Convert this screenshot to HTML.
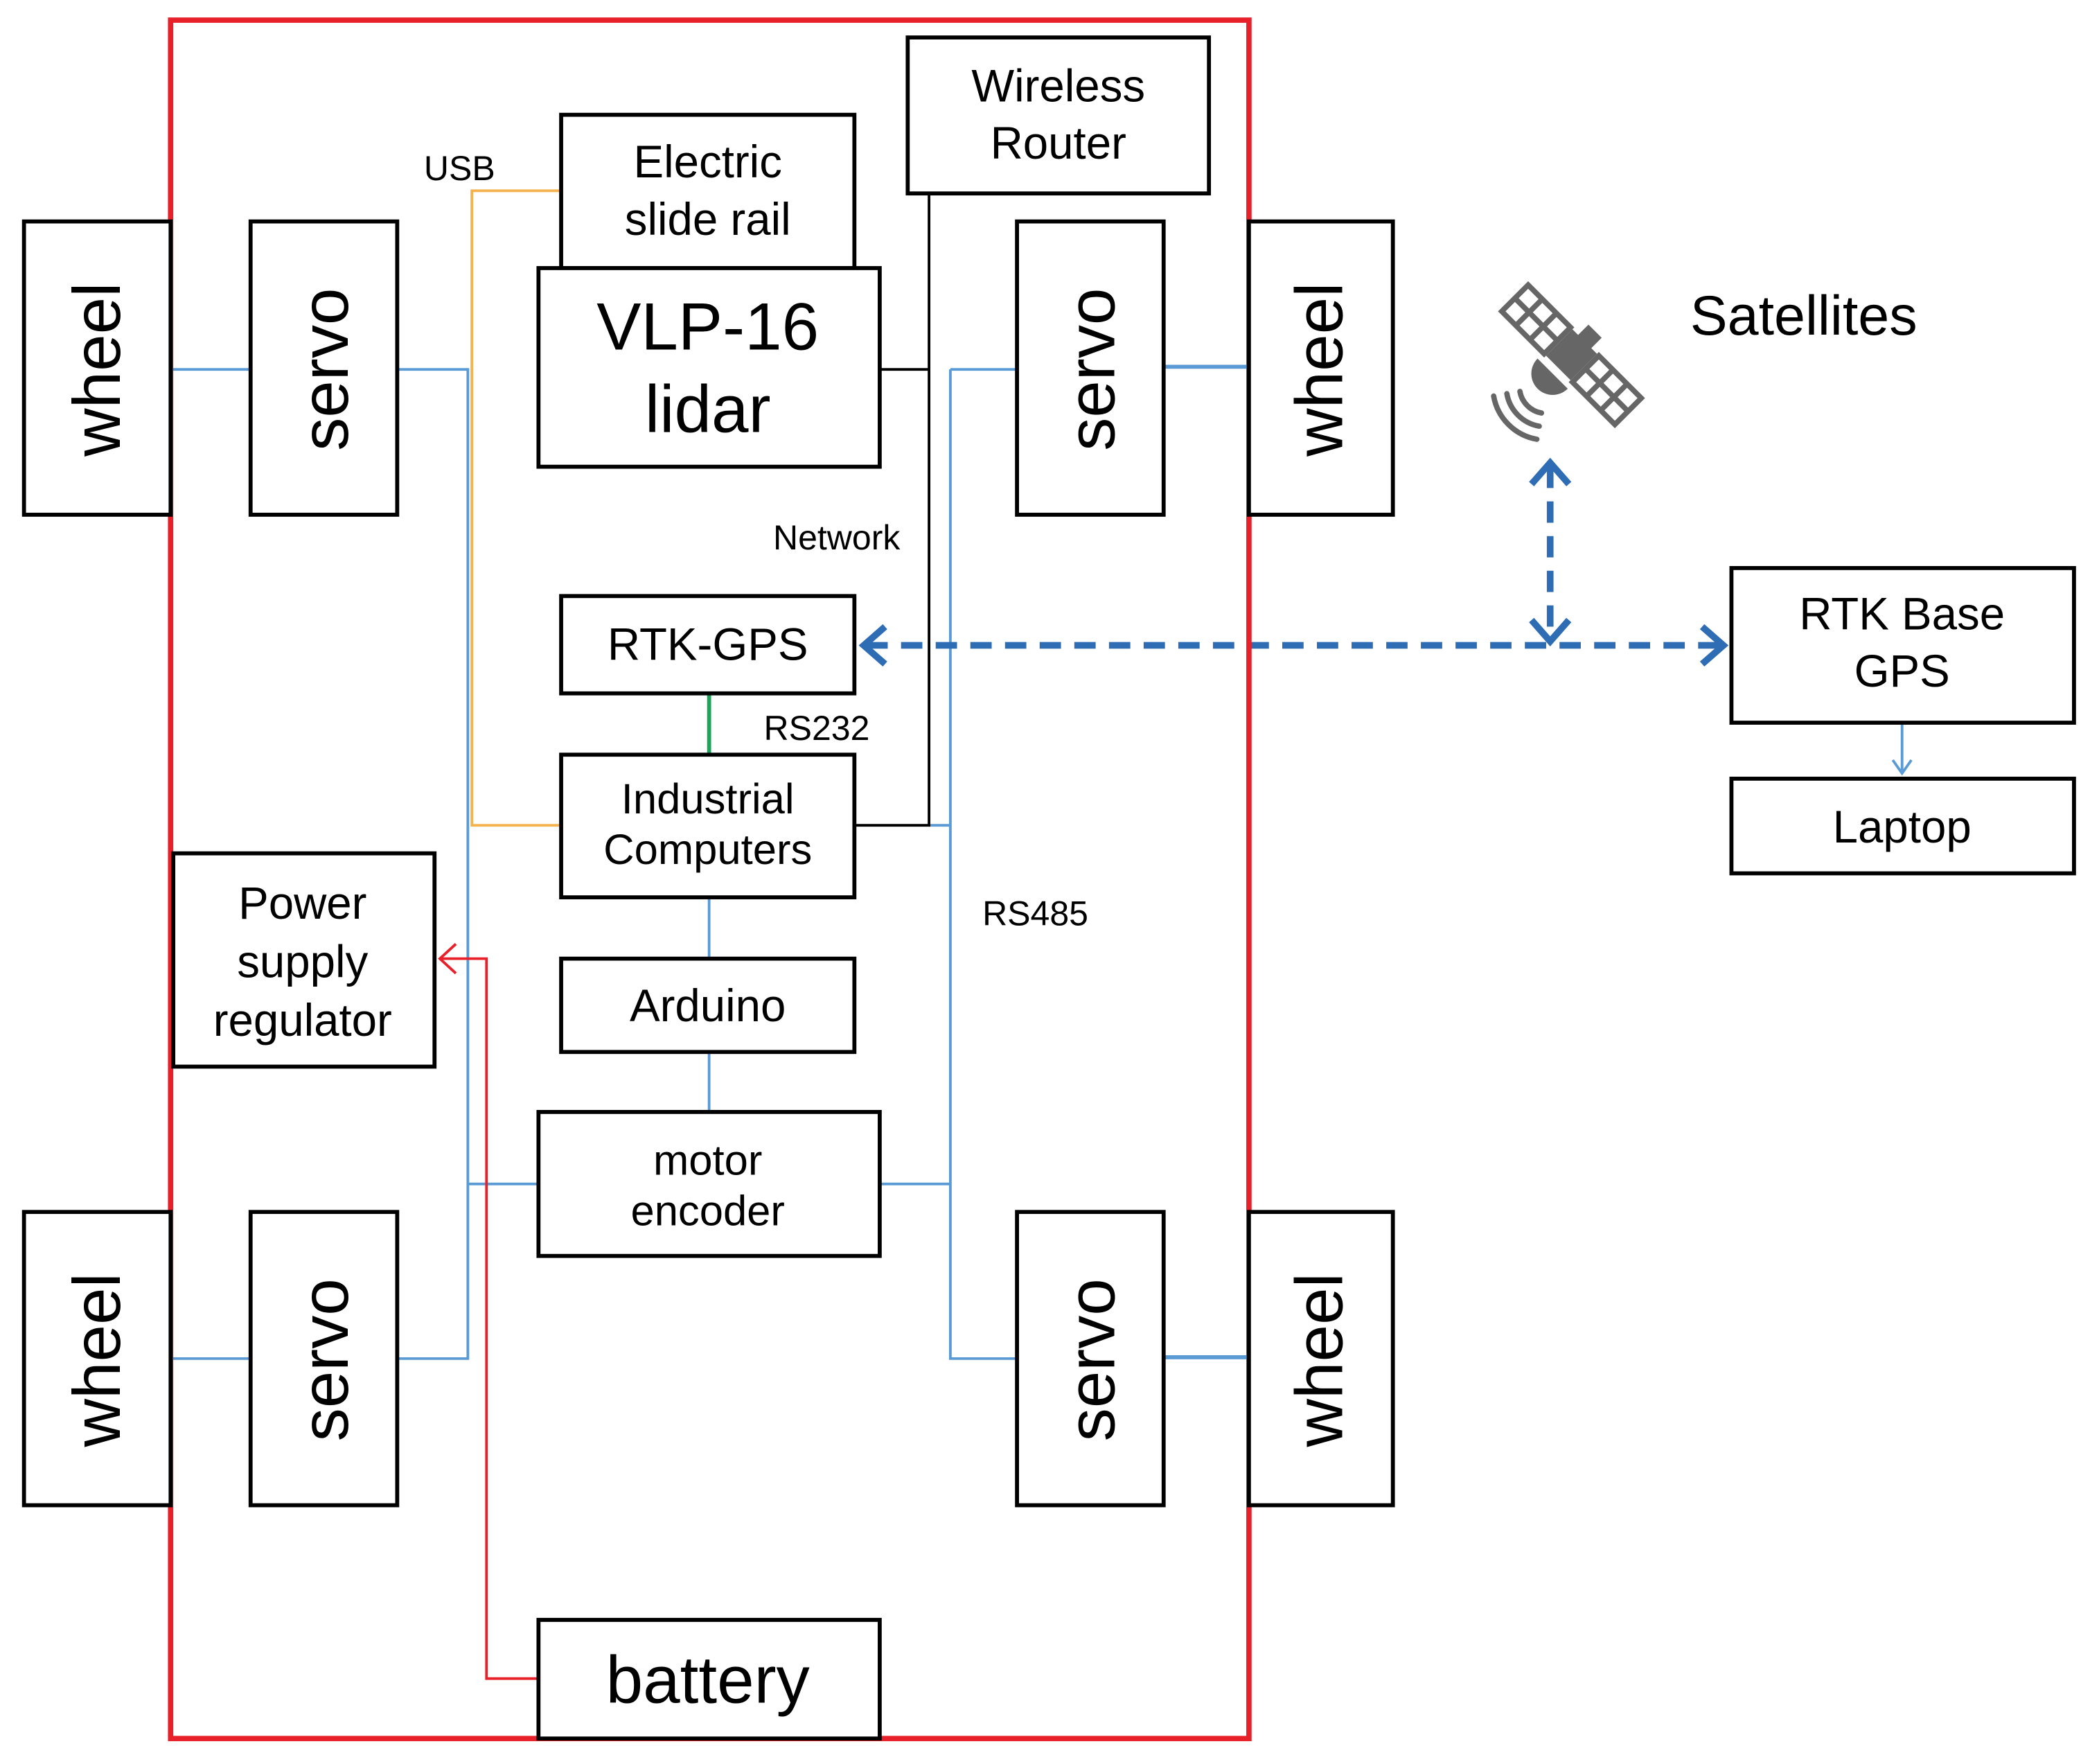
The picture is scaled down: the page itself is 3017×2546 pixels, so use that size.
<!DOCTYPE html>
<html><head><meta charset="utf-8"><style>html,body{margin:0;padding:0;background:#fff}svg{display:block}</style></head>
<body>
<svg width="3017" height="2546" viewBox="0 0 1568 1323" xmlns="http://www.w3.org/2000/svg" font-family="Liberation Sans, sans-serif">
<rect width="1568" height="1323" fill="#fff"/>
<!-- connectors -->
<g stroke="#5b9bd5" stroke-width="2" fill="none">
<path d="M128 277H188M128 1019H188M298 277H351V1019H298M351 888H404"/>
<path d="M697 619H713M713 277H763M713 277V1019H763M660 888H713"/>
<path d="M532 673V719M532 789V834"/>
<path d="M873 275H937M873 1018H937" stroke-width="3"/>
<path d="M1427 542V578M1420 570L1427 580L1434 570"/>
</g>
<path d="M641 619H697V145M660 277H697" stroke="#000" stroke-width="2" fill="none"/>
<path d="M421 143H354V619H421" stroke="#f5b350" stroke-width="2" fill="none"/>
<path d="M532 520V566" stroke="#1aa55a" stroke-width="3"/>
<path d="M404 1259H365V719H330M342 708L330 719L342 730" stroke="#e8202a" stroke-width="2" fill="none"/>
<g stroke="#2e6db4" stroke-width="5" fill="none" stroke-dasharray="16,10">
<path d="M650 484H1290"/><path d="M1163 350V478"/>
</g>
<g stroke="#2e6db4" stroke-width="5" fill="none">
<path d="M664 470L648 484L664 498"/><path d="M1277 470L1293 484L1277 498"/>
<path d="M1149 363L1163 347L1177 363"/><path d="M1149 465L1163 481L1177 465"/>
</g>
<!-- red frame -->
<rect x="128" y="15" width="809" height="1289" fill="none" stroke="#e8202a" stroke-width="4"/>
<!-- boxes -->
<g fill="#fff" stroke="#000" stroke-width="3">
<rect x="18" y="166" width="110" height="220"/><rect x="18" y="909" width="110" height="220"/>
<rect x="937" y="166" width="108" height="220"/><rect x="937" y="909" width="108" height="220"/>
<rect x="188" y="166" width="110" height="220"/><rect x="188" y="909" width="110" height="220"/>
<rect x="763" y="166" width="110" height="220"/><rect x="763" y="909" width="110" height="220"/>
<rect x="421" y="86" width="220" height="115"/>
<rect x="404" y="201" width="256" height="149"/>
<rect x="681" y="28" width="226" height="117"/>
<rect x="421" y="447" width="220" height="73"/>
<rect x="421" y="566" width="220" height="107"/>
<rect x="421" y="719" width="220" height="70"/>
<rect x="404" y="834" width="256" height="108"/>
<rect x="404" y="1215" width="256" height="89"/>
<rect x="130" y="640" width="196" height="160"/>
<rect x="1299" y="426" width="257" height="116"/>
<rect x="1299" y="584" width="257" height="71"/>
</g>
<g font-size="50" text-anchor="middle" fill="#000">
<text transform="translate(90,277) rotate(-90)">wheel</text>
<text transform="translate(90,1020) rotate(-90)">wheel</text>
<text transform="translate(1007,277) rotate(-90)">wheel</text>
<text transform="translate(1007,1020) rotate(-90)">wheel</text>
<text transform="translate(261,277) rotate(-90)">servo</text>
<text transform="translate(261,1020) rotate(-90)">servo</text>
<text transform="translate(836,277) rotate(-90)">servo</text>
<text transform="translate(836,1020) rotate(-90)">servo</text>
</g>
<g text-anchor="middle" fill="#000">
<text x="531" y="133" font-size="34">Electric</text><text x="531" y="176" font-size="34">slide rail</text>
<text x="531" y="262" font-size="50">VLP-16</text><text x="531" y="324" font-size="50">lidar</text>
<text x="794" y="76" font-size="34">Wireless</text><text x="794" y="119" font-size="34">Router</text>
<text x="531" y="495" font-size="34">RTK-GPS</text>
<text x="531" y="610" font-size="32">Industrial</text><text x="531" y="648" font-size="32">Computers</text>
<text x="531" y="766" font-size="34">Arduino</text>
<text x="531" y="881" font-size="32">motor</text><text x="531" y="919" font-size="32">encoder</text>
<text x="531" y="1277" font-size="50">battery</text>
<text x="227" y="689" font-size="34">Power</text><text x="227" y="733" font-size="34">supply</text><text x="227" y="777" font-size="34">regulator</text>
<text x="1427" y="472" font-size="34">RTK Base</text><text x="1427" y="515" font-size="34">GPS</text>
<text x="1427" y="632" font-size="34">Laptop</text>
</g>
<g fill="#000" font-size="26">
<text x="318" y="135">USB</text>
<text x="580" y="412">Network</text>
<text x="573" y="555">RS232</text>
<text x="737" y="694">RS485</text>
<text x="1268" y="251" font-size="42">Satellites</text>
</g>
<!-- satellite icon -->
<g transform="translate(1179,266) rotate(-45)" fill="none" stroke="#666" stroke-width="4">
<rect x="-12" y="-11" width="24" height="22" fill="#666"/>
<rect x="-14" y="-60" width="28" height="45"/>
<path d="M0 -60V-15M-14 -45H14M-14 -30H14"/>
<rect x="-14" y="15" width="28" height="45"/>
<path d="M0 15V60M-14 30H14M-14 45H14"/>
<rect x="14" y="-5" width="9" height="10" fill="#666"/>
<path d="M-14 -16 A16 16 0 0 0 -14 16 Z" fill="#666" stroke="none" transform="translate(-6,0)"/>
</g>
<g fill="none" stroke="#666" stroke-width="4" stroke-linecap="round">
<path d="M1156.5 309.7 A20 20 0 0 1 1140.3 293.5"/>
<path d="M1154.8 319.6 A30 30 0 0 1 1130.5 295.2"/>
<path d="M1153 329.4 A40 40 0 0 1 1120.6 297"/>
</g>
</svg>
</body></html>
